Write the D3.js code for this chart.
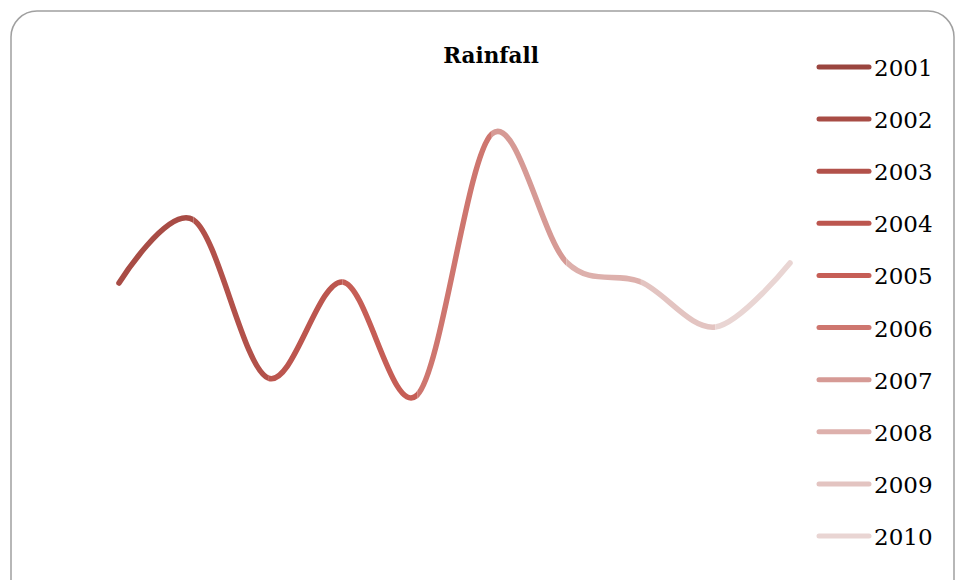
<!DOCTYPE html>
<html>
<head>
<meta charset="utf-8">
<script src="https://cdn.jsdelivr.net/npm/d3@7"></script>
<style>
  html, body { margin: 0; padding: 0; background: #fff; }
  svg { display: block; }
</style>
</head>
<body>
<svg id="chart" width="959" height="580"></svg>
<script>
// Annual rainfall, one value per year
const years = ["2001", "2002", "2003", "2004", "2005", "2006", "2007", "2008", "2009", "2010"];
const rainfall = [54.25, 70, 30.5, 54.5, 26.25, 91.5, 59.5, 54.5, 43.25, 59.25];
const yearColors = ["#9a453f", "#a84c45", "#b2514a", "#bc564f", "#c65e56", "#ce766f", "#d69a95", "#ddb0ac", "#e3c4c1", "#e9d5d3"];

const svg = d3.select("#chart");
const W = 959, H = 580;

// Chart frame
svg.append("rect")
  .attr("x", 11).attr("y", 11)
  .attr("width", 943).attr("height", 600)
  .attr("rx", 26).attr("ry", 26)
  .attr("fill", "#fff")
  .attr("stroke", "#a0a0a0")
  .attr("stroke-width", 1.5);

// Title
svg.append("text")
  .attr("x", 491).attr("y", 63)
  .attr("text-anchor", "middle")
  .attr("font-family", "'DejaVu Serif', serif")
  .attr("font-weight", "bold")
  .attr("font-size", 21.5)
  .attr("fill", "#000")
  .text("Rainfall");

// Scales
const x = d3.scalePoint().domain(years).range([119, 790]);
const y = d3.scaleLinear().domain([0, 100]).range([500, 100]);

const data = years.map((yr, i) => ({ year: yr, value: rainfall[i] }));

const line = d3.line()
  .x(d => x(d.year))
  .y(d => y(d.value))
  .curve(d3.curveCardinal.tension(0));

const pathD = line(data);
const defs = svg.append("defs");
const plot = svg.append("g");

// One clipped copy of the smooth curve per segment, coloured by the year it leads into
for (let i = 1; i < years.length; i++) {
  const x0 = x(years[i - 1]), x1 = x(years[i]);
  const left = i === 1 ? x0 - 10 : x0;
  const right = i === years.length - 1 ? x1 + 10 : x1;
  defs.append("clipPath").attr("id", "seg" + i)
    .append("rect")
    .attr("x", left).attr("y", 0)
    .attr("width", right - left).attr("height", H);
  plot.append("path")
    .attr("d", pathD)
    .attr("clip-path", `url(#seg${i})`)
    .attr("fill", "none")
    .attr("stroke", yearColors[i])
    .attr("stroke-width", 5.5)
    .attr("stroke-linecap", "round")
    .attr("stroke-linejoin", "round");
}

// Legend
const legendY = d3.scalePoint().domain(years).range([67, 536]);
const legend = svg.append("g");
years.forEach((yr, i) => {
  const ly = legendY(yr);
  legend.append("line")
    .attr("x1", 819).attr("x2", 869)
    .attr("y1", ly).attr("y2", ly)
    .attr("stroke", yearColors[i])
    .attr("stroke-width", 5)
    .attr("stroke-linecap", "round");
  legend.append("text")
    .attr("x", 874).attr("y", ly + 9)
    .attr("font-family", "'DejaVu Serif', serif")
    .attr("font-size", 23)
    .attr("fill", "#000")
    .text(yr);
});
</script>
</body>
</html>
